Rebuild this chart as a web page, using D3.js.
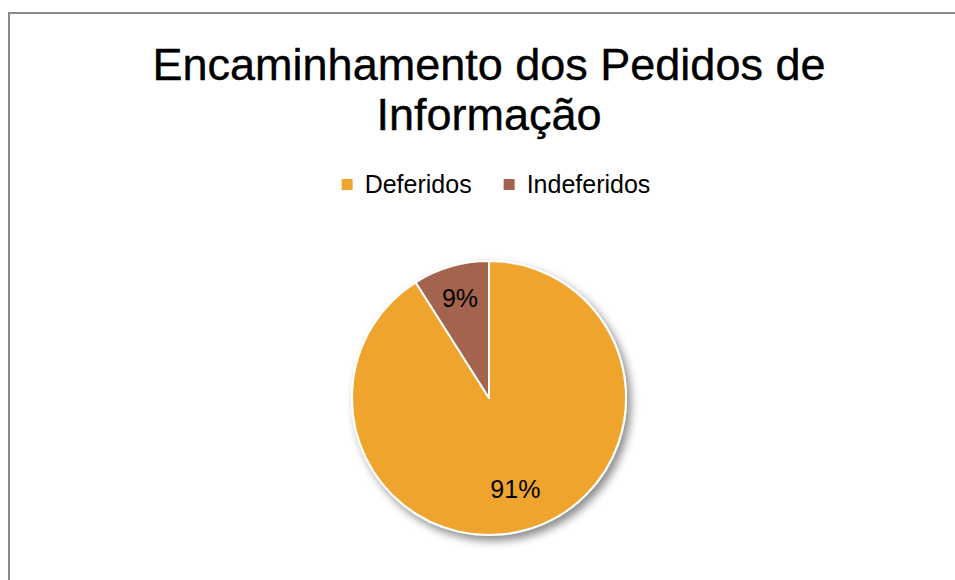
<!DOCTYPE html>
<html>
<head>
<meta charset="utf-8">
<script src="https://cdn.jsdelivr.net/npm/d3@7"></script>
<style>
  body { margin: 0; background: #fff; }
  svg { display: block; font-family: "Liberation Sans", Arial, sans-serif; }
</style>
</head>
<body>
<div id="chart"></div>
<script>
var titleLines = ["Encaminhamento dos Pedidos de", "Informação"];
var categories = ["Deferidos", "Indeferidos"];
var values = [91, 9];
var colors = ["#EFA42F", "#A4634E"];

var W = 955, H = 580;
var cx = 489, cy = 398, radius = 137;
var labelR = [0.69, 0.76];   // label distance per slice (fraction of radius)

var svg = d3.select("#chart").append("svg")
    .attr("width", W)
    .attr("height", H);

// drop shadow for the pie
var defs = svg.append("defs");
var filter = defs.append("filter")
    .attr("id", "shadow")
    .attr("x", "-20%").attr("y", "-20%")
    .attr("width", "150%").attr("height", "150%");
filter.append("feDropShadow")
    .attr("dx", 4).attr("dy", 5)
    .attr("stdDeviation", 4)
    .attr("flood-color", "#000")
    .attr("flood-opacity", 0.45);

// frame (left + top only)
svg.append("path")
    .attr("d", "M9," + H + "V13H" + W)
    .attr("fill", "none")
    .attr("stroke", "#8a8a8a")
    .attr("stroke-width", 2);

// title
svg.append("g").selectAll("text")
    .data(titleLines)
    .enter().append("text")
    .attr("x", cx)
    .attr("y", function(d, i) { return 80 + i * 50; })
    .attr("text-anchor", "middle")
    .attr("font-size", 45)
    .attr("fill", "#000")
    .attr("stroke", "#000")
    .attr("stroke-width", 0.4)
    .text(function(d) { return d; });

// legend
var legend = svg.append("g");
var items = legend.selectAll("g")
    .data(categories)
    .enter().append("g");
items.append("rect")
    .attr("width", 11).attr("height", 11)
    .attr("y", -14)
    .attr("fill", function(d, i) { return colors[i]; });
items.append("text")
    .attr("x", 23)
    .attr("font-size", 25)
    .attr("fill", "#000")
    .text(function(d) { return d; });
var offs = [], xx = 0;
items.each(function() {
    offs.push(xx);
    xx += 23 + this.querySelector("text").getComputedTextLength() + 32;
});
var legendW = xx - 32;
items.attr("transform", function(d, i) {
    return "translate(" + (offs[i]) + ",0)";
});
legend.attr("transform", "translate(" + (496 - legendW / 2) + ",193)");

// pie
var pie = d3.pie().sort(null).value(function(d) { return d; });
var arc = d3.arc().innerRadius(0).outerRadius(radius);
var arcs = pie(values);

var g = svg.append("g")
    .attr("transform", "translate(" + cx + "," + cy + ")");

g.append("g")
    .attr("filter", "url(#shadow)")
    .selectAll("path")
    .data(arcs)
    .enter().append("path")
    .attr("d", arc)
    .attr("fill", function(d, i) { return colors[i]; })
    .attr("stroke", "#fff")
    .attr("stroke-width", 2)
    .attr("stroke-linejoin", "round");

var total = d3.sum(values);
g.selectAll(".lbl")
    .data(arcs)
    .enter().append("text")
    .attr("class", "lbl")
    .attr("transform", function(d, i) {
        var r = radius * labelR[i];
        var c = d3.arc().innerRadius(r).outerRadius(r).centroid(d);
        return "translate(" + c[0] + "," + c[1] + ")";
    })
    .attr("text-anchor", "middle")
    .attr("dy", "0.35em")
    .attr("font-size", 25)
    .attr("fill", "#000")
    .text(function(d) { return Math.round(d.value / total * 100) + "%"; });
</script>
</body>
</html>
